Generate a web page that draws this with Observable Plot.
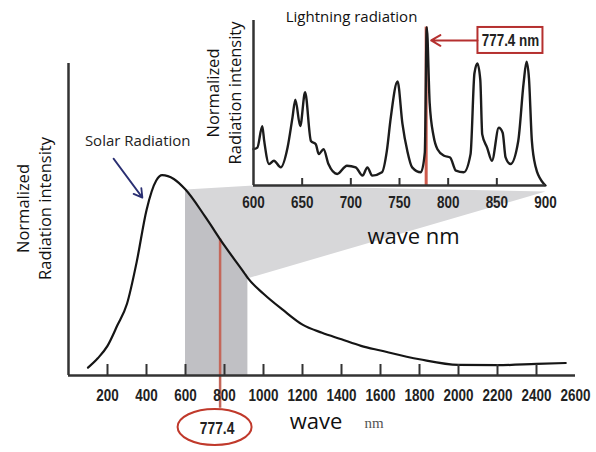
<!DOCTYPE html>
<html><head><meta charset="utf-8">
<script src="https://cdn.jsdelivr.net/npm/d3@7"></script>
<script src="https://cdn.jsdelivr.net/npm/@observablehq/plot@0.6"></script>
<style>
body{margin:0;background:#fff;}
#wrap{position:relative;width:596px;height:452px;overflow:hidden;}
#wrap svg{position:absolute;left:0;top:0;}
</style></head><body><div id="wrap"></div>
<script>
// ---- data ----
const solarNm  = [100, 150, 200, 250, 300, 350, 400, 450, 480, 540, 600, 700, 800, 900, 920, 1000, 1100, 1200, 1300, 1400, 1500, 1600, 1800, 2000, 2200, 2400, 2550];
const solarVal = [0.025, 0.055, 0.095, 0.16, 0.23, 0.365, 0.53, 0.625, 0.642, 0.63, 0.596, 0.51, 0.416, 0.33, 0.312, 0.262, 0.21, 0.163, 0.137, 0.116, 0.095, 0.08, 0.052, 0.034, 0.033, 0.037, 0.04];

const lightNm  = [600, 604, 609, 611, 616, 621, 628, 635, 640, 643, 648, 653, 659, 664, 667, 672, 677, 686, 696, 705, 712, 717, 722, 732, 737, 741, 748, 753, 758, 763, 772, 776, 778, 781, 785, 789, 796, 802, 808, 816, 823, 827, 830, 833, 835, 840, 845, 852, 856, 859, 864, 872, 877.5, 880.5, 883, 886, 890, 897, 900];
const lightVal = [0.22, 0.23, 0.36, 0.27, 0.13, 0.15, 0.11, 0.23, 0.41, 0.52, 0.36, 0.565, 0.27, 0.25, 0.19, 0.22, 0.13, 0.07, 0.12, 0.11, 0.06, 0.11, 0.06, 0.08, 0.21, 0.41, 0.63, 0.375, 0.21, 0.11, 0.08, 0.2, 0.96, 0.5, 0.3, 0.22, 0.18, 0.17, 0.09, 0.08, 0.19, 0.68, 0.74, 0.64, 0.31, 0.23, 0.15, 0.35, 0.32, 0.17, 0.13, 0.27, 0.62, 0.75, 0.65, 0.27, 0.11, 0.02, 0.0];

const mainTickLabels = [200, 400, 600, 800, 1000, 1200, 1400, 1600, 1800, 2000, 2200, 2400, 2600];
const mainTickMarks  = [200, 400, 600, 800, 1000, 1200, 1400, 1600, 1800, 2000, 2200, 2400];
const insetTickLabels = [600, 650, 700, 750, 800, 850, 900];
const insetTickMarks  = [650, 700, 750, 800, 850];
const markerNm = 777.4;
const bandNm = [600, 920];

// ---- derived ----
const solar = solarNm.map((x, i) => ({x, y: solarVal[i]}));
const light = lightNm.map((x, i) => ({x, y: lightVal[i]}));
const solarAt = d3.scaleLinear().domain(solarNm).range(solarVal);
const bandData = solar.filter(d => d.x >= bandNm[0] && d.x <= bandNm[1]);

const NUMF = "'Liberation Sans',Arial,sans-serif";
const SANS = "'Open Sans','Noto Sans',sans-serif";

// layout
const W = 596, H = 452;
const mainXR = [68, 575], mainYR = [375, 63];
const insXR = [253, 545], insYR = [185, 20];
const mainX = d3.scaleLinear().domain([0, 2600]).range(mainXR);
const mainY = d3.scaleLinear().domain([0, 1]).range(mainYR);
const insX = d3.scaleLinear().domain([600, 900]).range(insXR);
const insY = d3.scaleLinear().domain([0, 1]).range(insYR);

// funnel linking band to inset
const funnel = [
  {x: bandNm[0], y: solarAt(bandNm[0])},
  {x: mainX.invert(insX(600)), y: mainY.invert(insY(0))},
  {x: mainX.invert(insX(900)), y: mainY.invert(insY(0) + 6)},
  {x: bandNm[1], y: solarAt(bandNm[1])},
  ...bandData.filter(d => d.x > bandNm[0] && d.x < bandNm[1]).reverse()
];

const main = Plot.plot({
  width: W, height: H,
  marginLeft: mainXR[0], marginRight: W - mainXR[1], marginTop: mainYR[1], marginBottom: H - mainYR[0],
  x: {domain: [0, 2600], range: mainXR, axis: null},
  y: {domain: [0, 1], range: mainYR, axis: null},
  style: {background: "white", overflow: "visible"},
  marks: [
    Plot.line(funnel, {x: "x", y: "y", fill: "#d7d7d9", stroke: "none", curve: "linear"}),
    Plot.areaY(bandData, {x: "x", y: "y", fill: "#c0c0c4", curve: "monotone-x"}),
    Plot.ruleX([markerNm], {y1: -0.105, y2: solarAt(markerNm), stroke: "#c4675a", strokeWidth: 2.5}),
    Plot.line(solar, {x: "x", y: "y", stroke: "#151515", strokeWidth: 2.2, curve: "monotone-x"}),
    Plot.ruleY([0], {stroke: "#333", strokeWidth: 2.5}),
    Plot.ruleX([0], {stroke: "#333", strokeWidth: 2.5}),
    Plot.ruleX(mainTickMarks, {x: d => d, y1: 0, y2: 0, insetTop: -11, stroke: "#333", strokeWidth: 2}),
    Plot.text(mainTickLabels, {x: d => d, y: 0, dy: 20, text: d => String(d), fontFamily: NUMF, fontWeight: "bold", fontSize: 16, fill: "#222"}),
    Plot.text([markerNm], {x: d => d, y: 0, dx: -3, dy: 53, text: d => String(d), fontFamily: NUMF, fontWeight: "bold", fontSize: 16.5, fill: "#222"}),
    Plot.text(["wave"], {frameAnchor: "bottom", lineAnchor: "middle", dx: -6, dy: 46, text: d => d, fontFamily: SANS, fontSize: 22, fill: "#111"}),
    Plot.text(["nm"], {frameAnchor: "bottom", lineAnchor: "middle", dx: 52, dy: 48, text: d => d, fontFamily: "'Liberation Serif','DejaVu Serif',serif", fontSize: 15, fill: "#555"}),
    Plot.text(["Normalized\nRadiation intensity"], {frameAnchor: "left", textAnchor: "middle", lineAnchor: "middle", rotate: -90, dx: -36, dy: -11, lineHeight: 1.33, text: d => d, fontFamily: SANS, fontSize: 16.5, fill: "#111"}),
    Plot.text([{x: 355, y: 0.752}], {x: "x", y: "y", text: () => "Solar Radiation", fontFamily: SANS, fontSize: 15, fill: "#222"}),
    Plot.arrow([{x1: 231, y1: 0.695, x2: 379, y2: 0.57}], {x1: "x1", y1: "y1", x2: "x2", y2: "y2", stroke: "#2a2f72", strokeWidth: 1.8, headLength: 8})
  ]
});

d3.select(main).append("ellipse")
  .attr("cx", mainX(markerNm) - 5).attr("cy", mainY(0) + 52)
  .attr("rx", 37).attr("ry", 18)
  .attr("fill", "none").attr("stroke", "#c0392b").attr("stroke-width", 2);

const boxAnn = {x: 864, y: 0.879, label: "777.4 nm"};
const peakVal = d3.max(lightVal);

const inset = Plot.plot({
  width: W, height: H,
  marginLeft: insXR[0], marginRight: W - insXR[1], marginTop: insYR[1], marginBottom: H - insYR[0],
  x: {domain: [600, 900], range: insXR, axis: null},
  y: {domain: [0, 1], range: insYR, axis: null},
  style: {background: "transparent", overflow: "visible"},
  marks: [
    Plot.ruleX([markerNm], {y1: 0, y2: peakVal, stroke: "#cd5a4c", strokeWidth: 3}),
    Plot.line(light, {x: "x", y: "y", stroke: "#1c1c1c", strokeWidth: 2.4, curve: "monotone-x"}),
    Plot.ruleX([600], {stroke: "#333", strokeWidth: 2.5}),
    Plot.ruleY([0], {stroke: "#333", strokeWidth: 2.5}),
    Plot.ruleX(insetTickMarks, {x: d => d, y1: 0, y2: 0, insetTop: -7, stroke: "#333", strokeWidth: 2}),
    Plot.text(insetTickLabels, {x: d => d, y: 0, dy: 17, text: d => String(d), fontFamily: NUMF, fontWeight: "bold", fontSize: 16, fill: "#222"}),
    Plot.text(["Lightning radiation"], {frameAnchor: "top", lineAnchor: "middle", dx: -48, dy: -3, text: d => d, fontFamily: SANS, fontSize: 15, fill: "#111"}),
    Plot.text(["Normalized\nRadiation intensity"], {frameAnchor: "left", textAnchor: "middle", lineAnchor: "middle", rotate: -90, dx: -31, dy: -10, lineHeight: 1.33, text: d => d, fontFamily: SANS, fontSize: 16.5, fill: "#111"}),
    Plot.text(["wave nm"], {frameAnchor: "bottom", lineAnchor: "middle", dx: 14, dy: 51, text: d => d, fontFamily: SANS, fontSize: 22, fill: "#111"}),
    Plot.rect([boxAnn], {x1: "x", x2: "x", y1: "y", y2: "y", insetLeft: -32.5, insetRight: -32.5, insetTop: -13, insetBottom: -13, fill: "white", stroke: "#b5302f", strokeWidth: 2}),
    Plot.text([boxAnn], {x: "x", y: "y", text: "label", fontFamily: NUMF, fontWeight: "bold", fontSize: 16, fill: "#222"}),
    Plot.arrow([boxAnn], {x1: "x", y1: "y", x2: () => markerNm, y2: "y", insetStart: 33, insetEnd: 5, stroke: "#b5302f", strokeWidth: 2, headLength: 8})
  ]
});

const wrap = document.getElementById("wrap");
wrap.appendChild(main);
wrap.appendChild(inset);

// condense the numeric labels so they look like the narrow face of the original
for (const svg of [main, inset]) {
  d3.select(svg).selectAll("g[font-family^=\"'Liberation Sans'\"] text").each(function () {
    const w = this.getComputedTextLength();
    this.setAttribute("textLength", (w * 0.84).toFixed(2));
    this.setAttribute("lengthAdjust", "spacingAndGlyphs");
  });
}
</script></body></html>
